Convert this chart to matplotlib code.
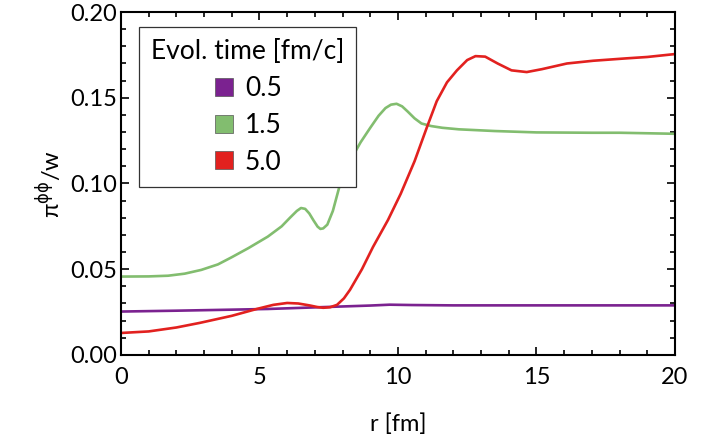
import matplotlib.pyplot as plt
from matplotlib.lines import Line2D
from matplotlib.ticker import MultipleLocator

plt.rcParams['font.family'] = ['Lato', 'DejaVu Sans']
plt.rcParams['mathtext.fontset'] = 'dejavusans'

# Evol. time 0.5 fm/c
r_05 = [0, 2, 4, 5.3, 7.5, 9.0, 9.7, 10.5, 12, 15, 18, 20]
pi_05 = [0.0253, 0.0258, 0.0264, 0.0268, 0.0280, 0.0288, 0.0293, 0.0291, 0.0289, 0.0289, 0.0289, 0.0289]

# Evol. time 1.5 fm/c
r_15 = [0, 1.0, 1.7, 2.3, 2.9, 3.5, 4.0, 4.6, 5.3, 5.8, 6.1, 6.35, 6.5, 6.65, 6.8, 6.95, 7.1, 7.2,
        7.3, 7.45, 7.65, 7.9, 8.3, 8.65, 9.0, 9.3, 9.55, 9.75, 9.95, 10.15, 10.35, 10.6, 10.85,
        11.2, 11.6, 12.2, 13.5, 15, 17, 18, 20]
pi_15 = [0.0457, 0.0458, 0.0462, 0.0474, 0.0496, 0.0528, 0.0570, 0.0623, 0.0690, 0.0750, 0.0800,
         0.0840, 0.0857, 0.0852, 0.0825, 0.0785, 0.0748, 0.0735, 0.0738, 0.0760, 0.0840, 0.0990,
         0.1140, 0.1240, 0.1325, 0.1395, 0.1440, 0.1460, 0.1465, 0.1450, 0.1420, 0.1380, 0.1350,
         0.1335, 0.1325, 0.1316, 0.1306, 0.1298, 0.1296, 0.1296, 0.1290]

# Evol. time 5.0 fm/c
r_50 = [0, 1.0, 2.0, 2.85, 4.0, 4.9, 5.5, 6.0, 6.4, 6.8, 7.1, 7.3, 7.55, 7.8, 8.05, 8.27, 8.7, 9.1,
        9.64, 10.1, 10.6, 11.05, 11.4, 11.77, 12.13, 12.5, 12.8, 13.15, 13.6, 14.1, 14.65, 15.2,
        16.1, 17.05, 18.25, 19.0, 20]
pi_50 = [0.0128, 0.0137, 0.0160, 0.0187, 0.0228, 0.0268, 0.0292, 0.0303, 0.0300, 0.0289, 0.0279,
         0.0275, 0.0278, 0.0292, 0.0330, 0.0380, 0.0500, 0.0630, 0.0787, 0.0940, 0.1130, 0.1330,
         0.1480, 0.1590, 0.1660, 0.1720, 0.1743, 0.1740, 0.1700, 0.1660, 0.1650, 0.1667, 0.1700,
         0.1716, 0.1730, 0.1738, 0.1755]

labels = ['0.5', '1.5', '5.0']
colors = ['#7b2290', '#82bd6f', '#e2211f']

fig = plt.figure(figsize=(7.18, 4.47), dpi=100)
ax = fig.add_axes([0.1685, 0.206, 0.7715, 0.767])

for r, v, c in zip([r_05, r_15, r_50], [pi_05, pi_15, pi_50], colors):
    ax.plot(r, v, color=c, lw=1.9, solid_joinstyle='round')

ax.set_xlim(0, 20)
ax.set_ylim(0, 0.20)
ax.xaxis.set_major_locator(MultipleLocator(5))
ax.xaxis.set_minor_locator(MultipleLocator(1))
ax.yaxis.set_major_locator(MultipleLocator(0.05))
ax.yaxis.set_minor_locator(MultipleLocator(0.01))
ax.yaxis.set_major_formatter(plt.FormatStrFormatter('%.2f'))
ax.tick_params(which='both', direction='in', top=True, right=True, width=1.2, labelsize=17)
ax.tick_params(axis='x', pad=9)
ax.tick_params(axis='y', pad=3)
ax.tick_params(which='major', length=6)
ax.tick_params(which='minor', length=3.5)
for s in ax.spines.values():
    s.set_linewidth(1.5)

ax.set_xlabel('r [fm]', fontsize=17, labelpad=18)
ax.set_ylabel(r'π$^{\mathrm{\phi\phi}}$/w', fontsize=17, labelpad=4)

handles = [Line2D([], [], ls='none', marker='s', markersize=12.5, markerfacecolor=c,
                  markeredgecolor='#555555', markeredgewidth=0.5) for c in colors]
leg = ax.legend(handles, labels, title='Evol. time [fm/c]', loc='upper left',
                bbox_to_anchor=(0.0325, 0.956), borderaxespad=0, fontsize=19,
                title_fontsize=19, fancybox=False, framealpha=1, edgecolor='#333333',
                handlelength=0.8, handletextpad=0.4, labelspacing=0.45, borderpad=0.45)
leg.get_frame().set_linewidth(0.9)

fig.savefig('out.png', dpi=100)
